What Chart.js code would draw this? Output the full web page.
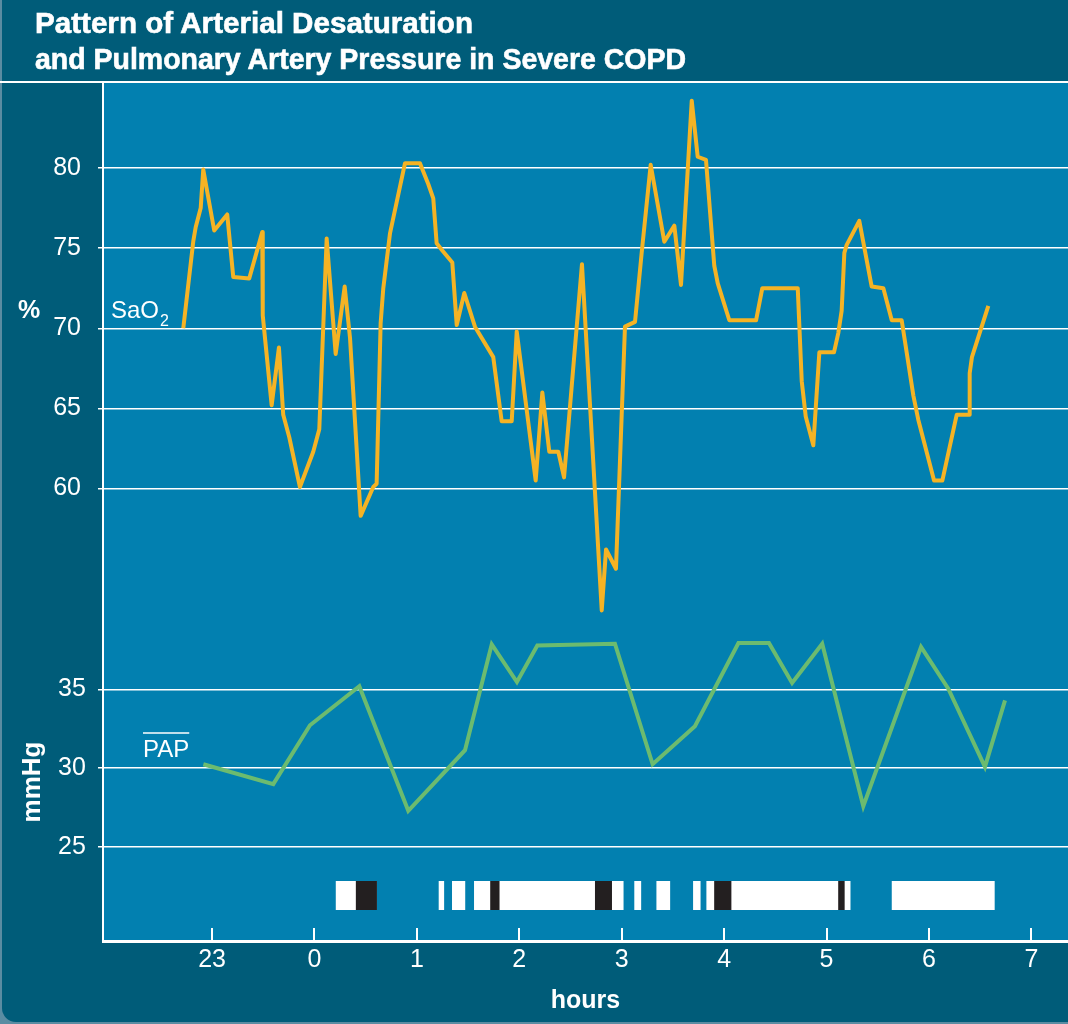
<!DOCTYPE html>
<html>
<head>
<meta charset="utf-8">
<script src="https://cdn.jsdelivr.net/npm/chart.js@4.4.0/dist/chart.umd.min.js"></script>
<style>
  html, body { margin: 0; padding: 0; }
  body { width: 1068px; height: 1024px; background: #5a8ca2; position: relative; overflow: hidden; }
  #frame { position: absolute; left: 2px; top: 0; width: 1066px; height: 1022px; background: #005c79; border-bottom-left-radius: 14px; }
  #wrap { position: absolute; left: 0; top: 0; width: 1068px; height: 1024px; }
  #title { position: absolute; left: 35px; top: 5px; color: #fff; font-family: "Liberation Sans", Arial, sans-serif;
           font-weight: bold; font-size: 29px; line-height: 36px; white-space: nowrap; z-index: 2;
           -webkit-text-stroke: 0.6px #fff; }
  #title span { display: inline-block; transform-origin: left center; }
</style>
</head>
<body>
<div id="frame"></div>
<div id="wrap"><canvas id="chart" width="1068" height="1024"></canvas></div>
<div id="title">
  <span id="t1">Pattern of Arterial Desaturation</span><br>
  <span id="t2">and Pulmonary Artery Pressure in Severe COPD</span>
</div>
<script>
// hours after midnight, 23:00 is -1
const hourTicks = [-1, 0, 1, 2, 3, 4, 5, 6, 7];
const saoTicks = [60, 65, 70, 75, 80];
const papTicks = [25, 30, 35];

// SaO2 (%) trace
const saoHours = [-1.281,-1.184,-1.160,-1.111,-1.086,-0.979,-0.852,-0.793,-0.637,-0.510,
  -0.505,-0.418,-0.347,-0.305,-0.246,-0.142,-0.012,0.047,0.119,0.207,
  0.295,0.347,0.451,0.574,0.607,0.646,0.672,0.737,0.884,1.030,
  1.111,1.160,1.193,1.242,1.346,1.389,1.463,1.567,1.746,1.828,
  1.926,1.975,2.160,2.225,2.293,2.381,2.437,2.612,2.805,2.847,
  2.944,3.032,3.130,3.195,3.283,3.416,3.514,3.579,3.684,3.742,
  3.823,3.904,3.938,4.051,4.312,4.373,4.719,4.758,4.797,4.871,
  4.930,5.073,5.115,5.148,5.174,5.197,5.320,5.441,5.555,5.637,
  5.734,5.848,5.896,6.050,6.131,6.271,6.396,6.398,6.420,6.580];
const saoValues = [70.0,75.4,76.3,77.5,79.9,76.1,77.1,73.2,73.1,76.0,
  70.8,65.2,68.8,64.6,63.2,60.1,62.3,63.7,75.6,68.4,
  72.6,69.4,58.3,60.1,60.3,70.3,72.5,75.9,80.3,80.3,
  79.0,78.1,75.3,74.9,74.1,70.2,72.2,70.1,68.2,64.2,
  64.2,69.8,60.5,66.0,62.3,62.3,60.7,74.0,52.4,56.2,
  55.0,70.1,70.4,74.7,80.2,75.4,76.4,72.7,84.2,80.7,
  80.5,73.9,72.8,70.5,70.5,72.5,72.5,66.7,64.5,62.7,
  68.5,68.5,69.7,71.1,74.7,75.2,76.7,72.6,72.5,70.5,
  70.5,65.8,64.3,60.5,60.5,64.6,64.6,67.2,68.2,71.4];

// mean pulmonary artery pressure (mmHg)
const papHours = [-1.085,-0.402,-0.044,0.438,0.916,1.470,1.731,1.977,2.176,2.934,
  3.302,3.715,4.140,4.438,4.664,4.958,5.359,5.923,6.189,6.547,6.743];
const papValues = [30.25,28.99,32.72,35.19,27.30,31.14,37.85,35.46,37.78,37.89,
  30.25,32.66,37.93,37.93,35.40,37.89,27.59,37.68,35.04,30.08,34.30];

// sleep bar: white = sleep, black = REM (start, end in hours)
const sleepBlocks = [[0.208,0.610],[1.213,1.266],[1.343,1.472],[1.558,3.018],[3.123,3.190],
  [3.339,3.473],[3.697,3.770],[3.827,5.234],[5.637,6.642]];
const remBlocks = [[0.404,0.610],[1.716,1.807],[2.739,2.905],[3.903,4.071],[5.114,5.177]];

const FONT = '"Liberation Sans", Arial, Helvetica, sans-serif';
const WHITE = '#ffffff';

// squeeze the title lines to the original widths (condensed face)
(function () {
  [['t1', 438], ['t2', 651]].forEach(([id, target]) => {
    const el = document.getElementById(id);
    el.style.transform = 'scaleX(' + (target / el.getBoundingClientRect().width) + ')';
  });
})();

const bgPlugin = {
  id: 'bg',
  beforeDraw(chart) {
    const { ctx, chartArea: a } = chart;
    ctx.save();
    ctx.fillStyle = '#0280b0';
    ctx.fillRect(a.left, a.top, a.right - a.left, a.bottom - a.top);
    ctx.fillStyle = WHITE;
    ctx.fillRect(0, a.top - 2, chart.width, 2);
    ctx.restore();
  }
};

const sleepPlugin = {
  id: 'sleepBar',
  beforeDatasetsDraw(chart) {
    const { ctx, chartArea: a } = chart;
    const x = chart.scales.x;
    const top = a.bottom - 60, h = 29;
    ctx.save();
    const draw = (blocks, color) => {
      ctx.fillStyle = color;
      blocks.forEach(([s, e]) => {
        const x0 = x.getPixelForValue(s), x1 = x.getPixelForValue(e);
        ctx.fillRect(x0, top, x1 - x0, h);
      });
    };
    draw(sleepBlocks, WHITE);
    draw(remBlocks, '#231f20');
    ctx.restore();
  }
};

const labelPlugin = {
  id: 'labels',
  afterDraw(chart) {
    const ctx = chart.ctx;
    ctx.save();
    ctx.fillStyle = WHITE;
    ctx.strokeStyle = WHITE;
    ctx.textBaseline = 'middle';
    ctx.textAlign = 'center';
    ctx.font = 'bold 25px ' + FONT;
    ctx.fillText('%', 29, 311);
    ctx.save();
    ctx.translate(33, 782);
    ctx.rotate(-Math.PI / 2);
    ctx.font = 'bold 26px ' + FONT;
    ctx.fillText('mmHg', 0, 0);
    ctx.restore();

    ctx.textAlign = 'left';
    ctx.textBaseline = 'alphabetic';
    ctx.font = '24px ' + FONT;
    ctx.fillText('SaO', 111, 318);
    const w = ctx.measureText('SaO').width;
    ctx.font = '16px ' + FONT;
    ctx.fillText('2', 111 + w + 1, 326);

    ctx.font = '24px ' + FONT;
    ctx.fillText('PAP', 143, 757);
    const pw = ctx.measureText('PAP').width;
    ctx.lineWidth = 1.5;
    ctx.beginPath();
    ctx.moveTo(143, 733);
    ctx.lineTo(143 + pw, 733);
    ctx.stroke();
    ctx.restore();
  }
};

new Chart(document.getElementById('chart'), {
  type: 'line',
  data: {
    datasets: [
      {
        label: 'SaO2',
        data: saoHours.map((h, i) => ({ x: h, y: saoValues[i] })),
        yAxisID: 'y',
        borderColor: '#f5b324',
        borderWidth: 4,
        borderJoinStyle: 'round',
        pointRadius: 0,
        tension: 0
      },
      {
        label: 'PAP',
        data: papHours.map((h, i) => ({ x: h, y: papValues[i] })),
        yAxisID: 'y2',
        borderColor: '#6cbb6f',
        borderWidth: 4,
        borderJoinStyle: 'miter',
        pointRadius: 0,
        tension: 0
      }
    ]
  },
  options: {
    responsive: false,
    animation: false,
    layout: { padding: { top: 83, left: 0, right: 0, bottom: 0 } },
    plugins: { legend: { display: false }, tooltip: { enabled: false } },
    scales: {
      x: {
        type: 'linear',
        min: -2.065,
        max: 7.358,
        afterBuildTicks: s => { s.ticks = hourTicks.map(v => ({ value: v })); },
        afterFit: s => { s.height = 83; },
        grid: { display: true, drawOnChartArea: false, drawTicks: true, tickLength: -13, color: WHITE, lineWidth: 2 },
        border: { display: true, color: WHITE, width: 3 },
        ticks: {
          color: WHITE, font: { family: FONT, size: 25 }, padding: 17, maxRotation: 0, autoSkip: false,
          callback: v => v < 0 ? String(24 + v) : String(v)
        },
        title: { display: true, text: 'hours', color: WHITE, font: { family: FONT, size: 25, weight: 'bold' }, padding: { top: 0, bottom: 8 } }
      },
      y: {
        type: 'linear',
        position: 'left',
        weight: 2,
        min: 31.78,
        max: 85.30,
        afterBuildTicks: s => { s.ticks = saoTicks.map(v => ({ value: v })); },
        afterFit: s => { s.width = 103; },
        grid: { color: WHITE, lineWidth: 1.5, tickLength: 5 },
        border: { display: true, color: WHITE, width: 2 },
        ticks: { color: WHITE, font: { family: FONT, size: 25 }, padding: 17 }
      },
      y2: {
        type: 'linear',
        position: 'left',
        weight: 1,
        min: 19.05,
        max: 73.42,
        afterBuildTicks: s => { s.ticks = papTicks.map(v => ({ value: v })); },
        afterFit: s => { s.width = 0; },
        grid: { color: WHITE, lineWidth: 1.5, tickLength: 5 },
        border: { display: false },
        // zero-width axis: mirrored labels are not clipped, pulled back left of the axis
        ticks: { color: WHITE, font: { family: FONT, size: 25 }, mirror: true, crossAlign: 'near', padding: -45 }
      }
    }
  },
  plugins: [bgPlugin, sleepPlugin, labelPlugin]
});
</script>
</body>
</html>
